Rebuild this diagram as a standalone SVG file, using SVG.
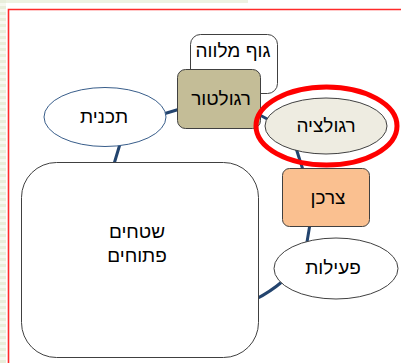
<svg xmlns="http://www.w3.org/2000/svg" width="401" height="363" viewBox="0 0 401 363">
  <defs>
    <pattern id="stripe" x="0" y="0" width="7" height="6" patternUnits="userSpaceOnUse">
      <rect x="0" y="0" width="6" height="3" fill="#e9eedb"/>
      <rect x="0" y="3" width="6" height="3" fill="#f6f8ef"/>
    </pattern>
    <style>
      .lbl { font-family: "Liberation Sans", "DejaVu Sans", Arial, sans-serif; font-size: 19px; fill: #000; text-anchor: middle; }
      .node { stroke: #404040; stroke-width: 1; }
      .conn { stroke: #23446e; stroke-width: 3; fill: none; stroke-linecap: round; }
    </style>
  </defs>
  <rect width="401" height="363" fill="#ffffff"/>
  <rect x="0" y="0" width="248" height="3" fill="#eef2e2"/>
  <rect x="0" y="0" width="6" height="363" fill="url(#stripe)"/>
  <path d="M8.5 363 V9.5 H401" fill="none" stroke="#ff2a2a" stroke-width="1.6"/>

  <g id="connectors">
    <line class="conn" x1="160" y1="115" x2="180" y2="109"/>
    <line class="conn" x1="120" y1="144" x2="114" y2="164"/>
    <line class="conn" x1="258" y1="114" x2="269" y2="120"/>
    <line class="conn" x1="296" y1="148" x2="303" y2="170"/>
    <line class="conn" x1="310" y1="224" x2="307" y2="242"/>
    <path class="conn" d="M283 281 Q270 292 256 299"/>
  </g>

  <g id="node-guf-melave">
    <rect class="node" x="190.5" y="34.5" width="87" height="59" rx="10" fill="#ffffff"/>
    <text class="lbl" x="233" y="57">גוף מלווה</text>
  </g>
  <g id="node-regulator">
    <rect class="node" x="177.5" y="69.5" width="83" height="59" rx="8" fill="#c4bd97"/>
    <text class="lbl" x="221" y="105">רגולטור</text>
  </g>
  <g id="node-tochnit">
    <ellipse cx="105" cy="117" rx="61" ry="29.5" fill="#ffffff" stroke="#385d8a" stroke-width="1"/>
    <text class="lbl" x="104" y="123">תכנית</text>
  </g>
  <g id="node-regulatzia">
    <ellipse class="node" cx="326" cy="126" rx="61" ry="28" fill="#eeece1"/>
    <text class="lbl" x="326" y="132">רגולציה</text>
  </g>
  <g id="node-tzarchan">
    <rect class="node" x="282.5" y="168.5" width="87" height="58" rx="7" fill="#fac090"/>
    <text class="lbl" x="328" y="204">צרכן</text>
  </g>
  <g id="node-peilut">
    <ellipse class="node" cx="336" cy="268.5" rx="62" ry="30.5" fill="#ffffff"/>
    <text class="lbl" x="333" y="274">פעילות</text>
  </g>
  <g id="node-shtachim">
    <rect class="node" x="21.5" y="162.5" width="237" height="195" rx="35" fill="#ffffff"/>
    <text class="lbl" x="137" y="238">שטחים</text>
    <text class="lbl" x="137" y="262">פתוחים</text>
  </g>
  <g id="highlight">
    <ellipse cx="326.5" cy="126" rx="70.5" ry="39" fill="none" stroke="#ff0000" stroke-width="5"/>
  </g>
</svg>
